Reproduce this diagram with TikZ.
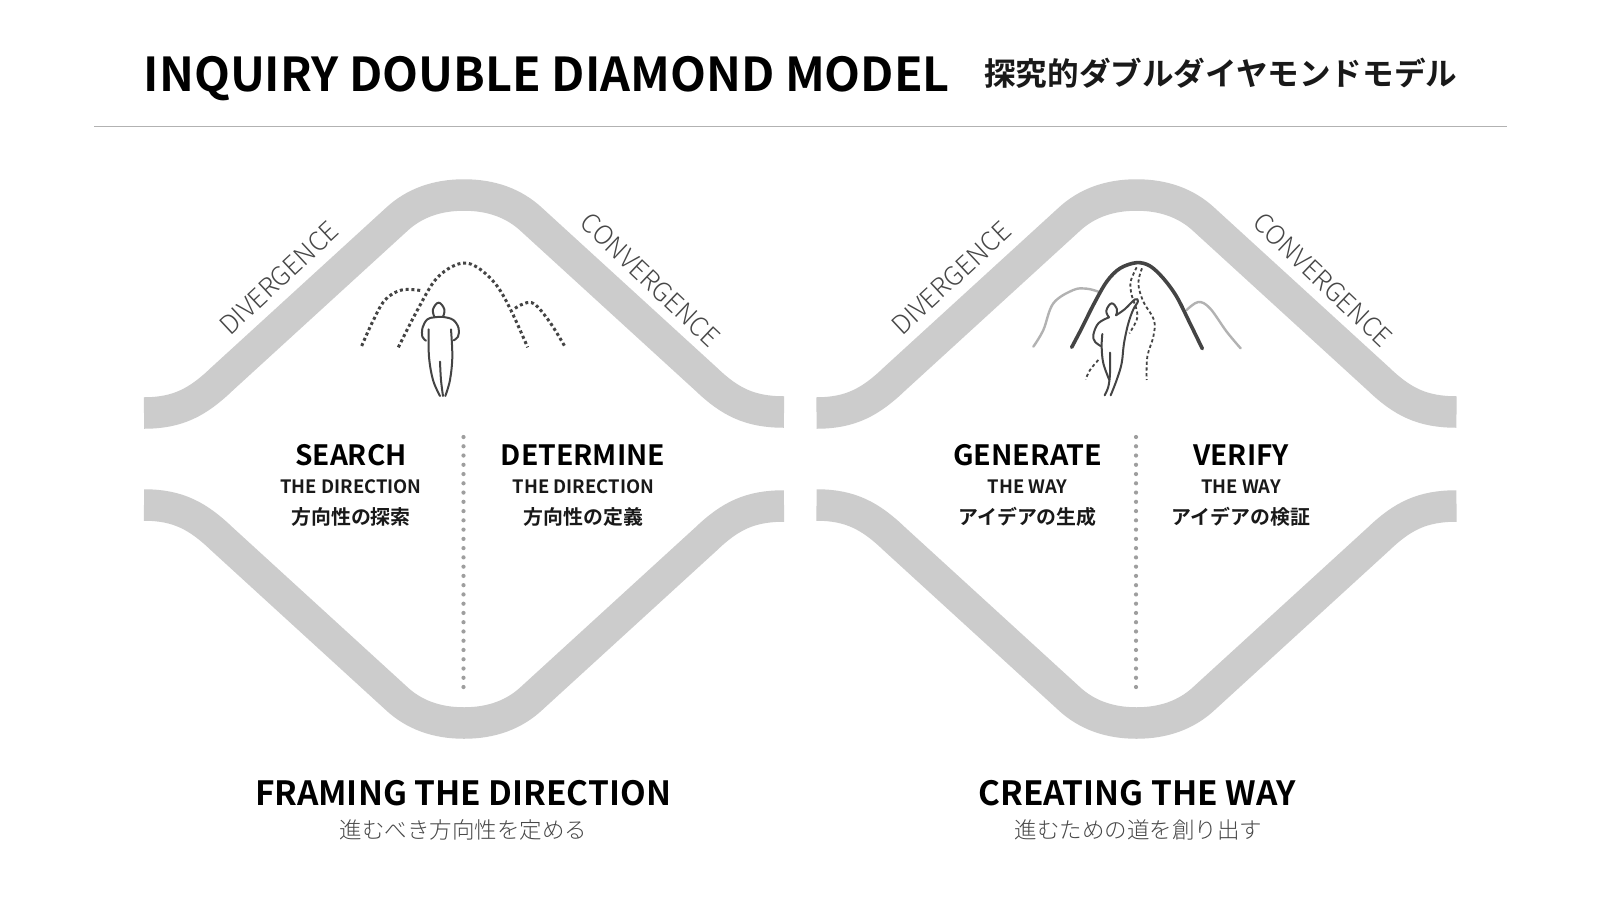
\documentclass[tikz,border=0pt]{standalone}
\usepackage{fontspec}
\setmainfont{Noto Sans CJK JP}[BoldFont={Noto Sans CJK JP Bold}]
\newfontfamily\lightf{Noto Sans CJK JP Light}
\definecolor{band}{HTML}{CCCCCC}
\definecolor{ink}{HTML}{444444}
\tikzset{
  bandline/.style={draw=band,line width=31.5pt,line cap=butt},
  fig/.style={draw=ink,line width=2pt,line cap=round,line join=round},
  dotline/.style={draw=ink,line width=3pt,dash pattern=on 3pt off 2.8pt},
  dashline/.style={draw=ink,line width=1.8pt,dash pattern=on 3.2pt off 2.6pt},
  softline/.style={draw=black!30,line width=2.4pt,line cap=round},
  mainline/.style={draw=ink,line width=3.6pt,line cap=round},
  axisdots/.style={draw=black!38,line width=4.2pt,line cap=round,dash pattern=on 0pt off 9.26pt},
  hd/.style={font=\bfseries\fontsize{28}{28}\selectfont,text=black,inner sep=0pt},
  sub/.style={font=\bfseries\fontsize{18.4}{18.4}\selectfont,text=black!90,inner sep=0pt},
  jp/.style={font=\bfseries\fontsize{19.9}{19.9}\selectfont,text=black!90,inner sep=0pt},
  big/.style={font=\bfseries\fontsize{33.4}{33.4}\selectfont,text=black,inner sep=0pt},
  bigjp/.style={font=\lightf\fontsize{22.5}{22.5}\selectfont,text=black!72,inner sep=0pt},
  dir/.style={font=\lightf\fontsize{26}{26}\selectfont,text=black!72,inner sep=0pt},
}
\newcommand{\bandhalf}{(144,413) .. controls (178,413) and (198,402) .. (222,379) -- (396,220) .. controls (414,203) and (437,195) .. (464,195) .. controls (491,195) and (514,203) .. (532,220) -- (706,379) .. controls (730,402) and (750,412) .. (784,412)}
\begin{document}
\begin{tikzpicture}[x=1pt,y=-1pt]
\useasboundingbox (0,0) rectangle (1600,900);
\fill[white] (0,0) rectangle (1600,900);
\node[anchor=base west,inner sep=0pt,font=\bfseries\fontsize{46.7}{46.7}\selectfont,text=black] (title) at (143.5,91.5) {INQUIRY DOUBLE DIAMOND MODEL};
\node[anchor=west,inner sep=0pt,font=\bfseries\fontsize{31.6}{31.6}\selectfont,text=black!90] (titlejp) at (984,73.5) {探究的ダブルダイヤモンドモデル};
\coordinate (rl) at (94,126.5);\coordinate (rr) at (1507,126.5);
\draw[black!30,line width=1.2pt] (rl) -- (rr);
\foreach \dx/\nm in {0/l,672.5/r}{
  \begin{scope}[xshift=\dx pt]
    \draw[bandline] \bandhalf;
  \end{scope}
  \begin{scope}[shift={(\dx,918)},y=1pt]
    \draw[bandline] \bandhalf;
  \end{scope}
  \coordinate (a\nm) at (463.5+\dx,437);
  \coordinate (b\nm) at (463.5+\dx,689);
  \draw[axisdots] (a\nm) -- (b\nm);
}
% side labels
\node[dir,rotate=43] (d1) at (279,278) {DIVERGENCE};
\node[dir,rotate=-43.5] (c1) at (650.5,280) {CONVERGENCE};
\node[dir,rotate=43] (d2) at (951.5,278) {DIVERGENCE};
\node[dir,rotate=-43.5] (c2) at (1323,280) {CONVERGENCE};
% stage text
\node[hd] (s1) at (351,455) {SEARCH};
\node[sub] (s2) at (351,487) {THE DIRECTION};
\node[jp] (s3) at (351,517) {方向性の探索};
\node[hd,xscale=1.012] (t1) at (583,455) {DETERMINE};
\node[sub] (t2) at (583.5,487) {THE DIRECTION};
\node[jp] (t3) at (583.5,517) {方向性の定義};
\node[hd,xscale=1.025] (u1) at (1027.5,455) {GENERATE};
\node[sub] (u2) at (1027.5,487) {THE WAY};
\node[jp] (u3) at (1027.5,517) {アイデアの生成};
\node[hd] (v1) at (1241,455) {VERIFY};
\node[sub] (v2) at (1241,487) {THE WAY};
\node[jp] (v3) at (1241,517) {アイデアの検証};
\node[big] (f1) at (463,793) {FRAMING THE DIRECTION};
\node[bigjp] (f2) at (463.5,830) {進むべき方向性を定める};
\node[big] (g1) at (1137.5,793) {CREATING THE WAY};
\node[bigjp] (g2) at (1138.5,830) {進むための道を創り出す};
% left figure
\begin{scope}[shift={(340,240)},x=0.3333pt,y=-0.3333pt]
  \draw[dotline] plot[smooth,tension=.6] coordinates {(65,318)(98,245)(135,180)(185,150)(245,152)};
  \draw[dotline] plot[smooth,tension=.6] coordinates {(175,322)(235,205)(290,115)(355,72)(405,78)(465,130)(510,205)(563,322)};
  \draw[dotline] plot[smooth,tension=.6] coordinates {(525,205)(575,188)(625,240)(675,320)};
  \draw[fig] plot[smooth,tension=.7] coordinates {(283,230)(279,208)(296,188)(313,208)(309,230)};
  \draw[fig] plot[smooth,tension=.6] coordinates {(258,302)(247,290)(248,262)(262,238)(283,232)(310,231)(340,240)(356,265)(354,290)(341,301)};
  \draw[fig] plot[smooth,tension=.6] coordinates {(266,268)(267,350)(279,420)(300,468)};
  \draw[fig] plot[smooth,tension=.6] coordinates {(333,268)(337,350)(330,420)(316,468)};
  \draw[fig] plot[smooth,tension=.6] coordinates {(300,365)(303,420)(309,468)};
\end{scope}
% right figure
\begin{scope}[shift={(1010,240)},x=0.3333pt,y=-0.3333pt]
  \draw[softline] plot[smooth,tension=.6] coordinates {(70,320)(100,270)(130,190)(190,150)(230,146)(265,155)};
  \draw[softline] plot[smooth,tension=.6] coordinates {(530,210)(565,186)(600,205)(650,275)(692,325)};
  \draw[mainline] plot[smooth,tension=.55] coordinates {(185,322)(215,265)(250,195)(290,125)(330,85)(380,68)(420,78)(460,115)(500,170)(540,250)(577,326)};
  \draw[dashline] plot[smooth,tension=.6] coordinates {(380,82)(362,125)(365,165)(380,210)(380,240)(358,280)};
  \draw[dashline] plot[smooth,tension=.6] coordinates {(396,85)(385,130)(400,185)(432,240)(430,290)(412,350)(410,420)};
  \draw[dashline] plot[smooth,tension=.6] coordinates {(265,360)(240,390)(227,418)};
  \draw[fig] plot[smooth,tension=.7] coordinates {(297,232)(289,212)(305,190)(321,208)(318,226)};
  \draw[fig] plot[smooth,tension=.6] coordinates {(318,226)(345,207)(375,178)(384,184)(370,208)(355,250)(342,310)(335,370)(320,420)(302,466)};
  \draw[fig] plot[smooth,tension=.6] coordinates {(297,232)(265,250)(250,285)(255,305)(272,318)};
  \draw[fig] plot[smooth,tension=.6] coordinates {(277,282)(275,320)(280,370)(298,420)};
  \draw[fig] plot[smooth,tension=.6] coordinates {(300,338)(300,400)(295,440)(284,466)};
\end{scope}
\end{tikzpicture}
\end{document}
